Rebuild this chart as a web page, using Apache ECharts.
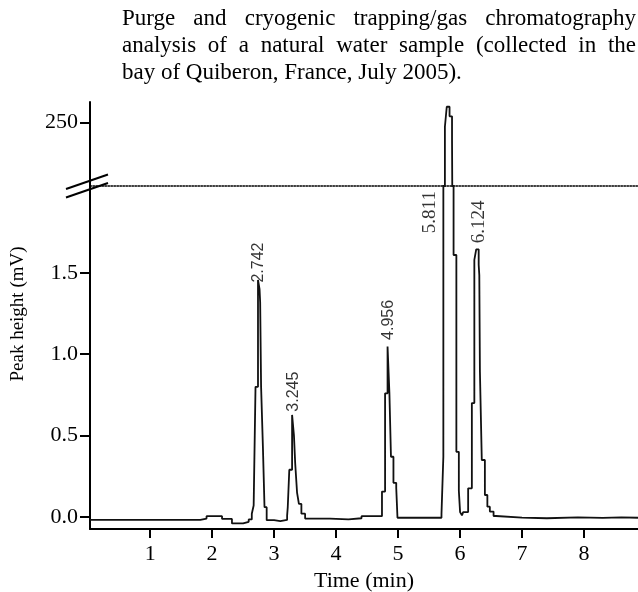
<!DOCTYPE html>
<html><head><meta charset="utf-8">
<script src="https://cdn.jsdelivr.net/npm/echarts@6/dist/echarts.min.js"></script>
<style>html,body{margin:0;padding:0;background:#fff}#c{width:638px;height:592px}</style>
</head><body><div id="c"></div>
<script>
// ---- data (time in min, signal in mV; tall peak top read on the upper, broken scale) ----
const traceTime = [0.03,1.81,1.91,2.16,2.32,2.50,2.59,2.64,2.67,2.70,2.74,2.765,2.775,2.79,2.82,2.845,2.88,3.00,3.10,3.21,3.22,3.245,3.29,3.32,3.34,3.37,3.40,3.44,3.50,3.90,4.20,4.41,4.74,4.79,4.83,4.86,4.885,4.925,4.97,4.99,5.70,5.73,5.755,5.785,5.83,5.87,5.895,5.94,5.98,6.00,6.03,6.05,6.13,6.19,6.23,6.26,6.30,6.31,6.32,6.35,6.40,6.44,6.48,6.54,6.58,7.00,7.40,7.90,8.30,8.60,8.87];
const traceSignal = [-0.018,-0.01,0.005,-0.012,-0.04,-0.03,-0.015,0.02,0.07,0.80,1.457,1.40,1.32,0.80,0.42,0.06,-0.02,-0.025,-0.018,0.01,0.06,0.29,0.627,0.50,0.33,0.15,0.08,0.02,-0.01,-0.015,-0.008,0.005,0.156,0.76,1.047,0.76,0.37,0.21,0.178,-0.005,0.02,0.37,246.8,262.6,255,236,1.61,0.40,0.16,0.03,0.01,0.03,0.176,0.70,1.58,1.645,1.55,1.487,0.893,0.35,0.135,0.063,0.033,0.006,-0.004,-0.008,-0.002,-0.006,-0.002,-0.005,-0.005];
const xTicks = [1,2,3,4,5,6,7,8];
const yTicksLow = [0,0.5,1.0,1.5];
const yTicksHigh = [250];
const peakLabels = ['2.742','3.245','4.956','5.811','6.124'];
const peakLabelTime = [2.748,3.309,4.841,5.514,6.309];
const peakLabelHeight = [1.44,0.647,1.088,1.744,1.682];
const titleLines = ['Purge and cryogenic trapping/gas chromatography','analysis of a natural water sample (collected in the','bay of Quiberon, France, July 2005).'];
const yTitle = 'Peak height (mV)';
const xTitle = 'Time (min)';

// ---- build ----
const SERIF = '"Liberation Serif","Times New Roman",serif';
const SANS = '"Liberation Sans",Arial,sans-serif';
const trace = traceTime.map((t,i)=>[t, traceSignal[i]]);
const labelPts = peakLabelTime.map((t,i)=>[t, peakLabelHeight[i], peakLabels[i]]);

const chart = echarts.init(document.getElementById('c'), null, {renderer:'canvas'});

function justifyLine(text, x0, x1, y, font, justify){
  const ctx = document.createElement('canvas').getContext('2d');
  ctx.font = font;
  const words = text.split(' ');
  const w = words.map(s=>ctx.measureText(s).width);
  const tot = w.reduce((a,b)=>a+b,0);
  const gap = justify ? (x1-x0-tot)/(words.length-1) : ctx.measureText(' ').width;
  let x = x0; const out=[];
  words.forEach((s,i)=>{ out.push({type:'text', x:x, y:y, style:{text:s, font:font, fill:'#000', textVerticalAlign:'middle', verticalAlign:'middle'}}); x += w[i]+gap; });
  return out;
}
const titleFont = '23px ' + SERIF;
let graphics = [];
titleLines.forEach((l,i)=>{ graphics = graphics.concat(justifyLine(l, 122, 636, 19+27*i, titleFont, i<2)); });
graphics.push({type:'text', x:18, y:314, rotation:Math.PI/2, style:{text:yTitle, font:'19px '+SERIF, fill:'#000', textAlign:'center', align:'center', textVerticalAlign:'middle', verticalAlign:'middle'}});
graphics.push({type:'line', shape:{x1:66,y1:189,x2:108,y2:174.5}, style:{stroke:'#000', lineWidth:2}, z:100});
graphics.push({type:'line', shape:{x1:66,y1:197.5,x2:108,y2:183}, style:{stroke:'#000', lineWidth:2}, z:100});

const axisLineStyle = {color:'#000', width:2};
const tickLabel = {color:'#000', fontFamily:SERIF, fontSize:22};

chart.setOption({
  animation:false,
  backgroundColor:'#fff',
  grid:[
    {left:90, right:0, top:102, height:84, outerBoundsMode:'none', containLabel:false},
    {left:90, right:0, top:186, height:343, outerBoundsMode:'none', containLabel:false}
  ],
  xAxis:[
    {type:'value', gridIndex:0, min:0.03, max:8.87,
     axisLine:{onZero:false, lineStyle:{color:'#000', width:1.5, type:[1.5,1.5]}},
     axisTick:{show:false}, axisLabel:{show:false}, splitLine:{show:false}},
    {type:'value', gridIndex:1, min:0.03, max:8.87,
     axisLine:{onZero:false, lineStyle:axisLineStyle},
     axisTick:{show:true, customValues:xTicks, length:9, lineStyle:{color:'#000', width:2}},
     axisLabel:Object.assign({customValues:xTicks, margin:14, formatter:v=>String(v)}, tickLabel),
     splitLine:{show:false},
     name:xTitle, nameLocation:'middle', nameGap:37,
     nameTextStyle:{color:'#000', fontFamily:SERIF, fontSize:22}}
  ],
  yAxis:[
    {type:'value', gridIndex:0, min:200, max:266.35,
     axisLine:{onZero:false, lineStyle:axisLineStyle},
     axisTick:{customValues:yTicksHigh, length:10, lineStyle:{color:'#000', width:2}},
     axisLabel:Object.assign({customValues:yTicksHigh, margin:12}, tickLabel),
     splitLine:{show:false}},
    {type:'value', gridIndex:1, min:-0.074, max:2.034,
     axisLine:{onZero:false, lineStyle:axisLineStyle},
     axisTick:{customValues:yTicksLow, length:10, lineStyle:{color:'#000', width:2}},
     axisLabel:Object.assign({customValues:yTicksLow, margin:12, formatter:v=>v.toFixed(1)}, tickLabel),
     splitLine:{show:false}}
  ],
  series:[
    {type:'line', xAxisIndex:1, yAxisIndex:1, data:trace, step:'end', symbol:'none', clip:true,
     lineStyle:{color:'#111', width:1.8}},
    {type:'line', xAxisIndex:0, yAxisIndex:0, data:trace, step:'end', symbol:'none', clip:true,
     lineStyle:{color:'#111', width:1.8}},
    {type:'scatter', xAxisIndex:1, yAxisIndex:1, data:labelPts.slice(0,3), symbolSize:0.1,
     itemStyle:{color:'transparent'}, silent:true,
     label:{show:true, position:[0,0], rotate:90, align:'left', verticalAlign:'middle',
            formatter:p=>p.data[2], fontFamily:SANS, fontSize:16, color:'#000'}},
    {type:'scatter', xAxisIndex:1, yAxisIndex:1, data:labelPts.slice(3), symbolSize:0.1,
     itemStyle:{color:'transparent'}, silent:true,
     label:{show:true, position:[0,0], rotate:90, align:'left', verticalAlign:'middle',
            formatter:p=>p.data[2], fontFamily:SERIF, fontSize:19, color:'#000'}}
  ],
  graphic:graphics
});
</script>
</body></html>
